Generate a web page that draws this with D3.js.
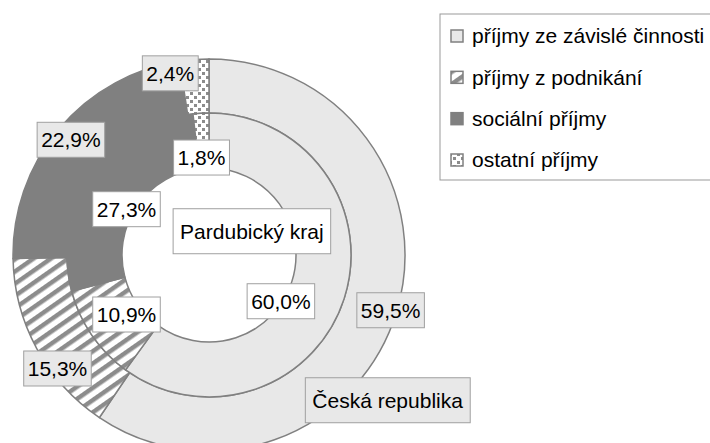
<!DOCTYPE html>
<html>
<head>
<meta charset="utf-8">
<script src="https://cdn.jsdelivr.net/npm/d3@7"></script>
<style>
  body { margin: 0; background: #fff; }
  text { font-family: "Liberation Sans", Arial, sans-serif; }
</style>
</head>
<body>
<div id="chart"></div>
<script>
// data
var categories = ["příjmy ze závislé činnosti", "příjmy z podnikání", "sociální příjmy", "ostatní příjmy"];
var seriesNames = ["Česká republika", "Pardubický kraj"];
var crValues = [59.5, 15.3, 22.9, 2.4];   // outer ring
var pkValues = [60.0, 10.9, 27.3, 1.8];   // inner ring

// label nudges from the arc centroid (Excel labels were moved by hand)
var crNudge = [[20, 6], [-3, 33], [-9, -6], [-26, -13]];
var pkNudge = [[-37, 11], [12, -5], [12, 19], [-1, 17]];
var nameNudge = [[17, 96], [-66, -59]];

var width = 710, height = 443;
var cx = 209, cy = 255;
var rOuter = 196, rMid = 142, rInner = 87;

var fills = ["#e8e8e8", "url(#hatch)", "#808080", "url(#dots)"];
var fmt = function(v) { return d3.format(".1f")(v).replace(".", ",") + "%"; };

var svg = d3.select("#chart").append("svg")
    .attr("width", width)
    .attr("height", height);

var defs = svg.append("defs");
var hatch = defs.append("pattern")
    .attr("id", "hatch")
    .attr("patternUnits", "userSpaceOnUse")
    .attr("width", 10).attr("height", 10)
    .attr("patternTransform", "rotate(-35)");
hatch.append("rect").attr("width", 10).attr("height", 10).attr("fill", "#fff");
hatch.append("rect").attr("width", 10).attr("height", 4.5).attr("fill", "#8c8c8c");

var dots = defs.append("pattern")
    .attr("id", "dots")
    .attr("patternUnits", "userSpaceOnUse")
    .attr("width", 8).attr("height", 8);
dots.append("rect").attr("width", 8).attr("height", 8).attr("fill", "#fff");
dots.append("rect").attr("x", 1).attr("y", 1).attr("width", 3).attr("height", 3).attr("fill", "#8c8c8c");
dots.append("rect").attr("x", 5).attr("y", 5).attr("width", 3).attr("height", 3).attr("fill", "#8c8c8c");

var pie = d3.pie().value(function(d) { return d; }).sort(null);

var outerArc = d3.arc().innerRadius(rMid).outerRadius(rOuter);
var innerArc = d3.arc().innerRadius(rInner).outerRadius(rMid);

var g = svg.append("g").attr("transform", "translate(" + cx + "," + cy + ")");

var crPie = pie(crValues);
var pkPie = pie(pkValues);

g.selectAll("path.outer")
  .data(crPie)
  .enter()
  .append("path")
  .attr("class", "outer")
  .attr("d", outerArc)
  .attr("fill", function(d, i) { return fills[i]; })
  .attr("stroke", "#808080")
  .attr("stroke-width", 1.5);

g.selectAll("path.inner")
  .data(pkPie)
  .enter()
  .append("path")
  .attr("class", "inner")
  .attr("d", innerArc)
  .attr("fill", function(d, i) { return fills[i]; })
  .attr("stroke", "#808080")
  .attr("stroke-width", 1.5);

// boxed label helper
function boxLabel(x, y, txt, bg, padX, padY) {
  var lg = g.append("g").attr("transform", "translate(" + x + "," + y + ")");
  var rect = lg.append("rect");
  var t = lg.append("text")
      .attr("text-anchor", "middle")
      .attr("dy", "0.35em")
      .attr("font-size", 21)
      .attr("fill", "#000")
      .text(txt);
  var bb = t.node().getBBox();
  rect.attr("x", bb.x - padX)
      .attr("y", bb.y - padY)
      .attr("width", bb.width + padX * 2)
      .attr("height", bb.height + padY * 2)
      .attr("fill", bg)
      .attr("stroke", "#a0a0a0")
      .attr("stroke-width", 1);
}

crPie.forEach(function(d, i) {
  var c = outerArc.centroid(d);
  boxLabel(c[0] + crNudge[i][0], c[1] + crNudge[i][1], fmt(d.data), "#e8e8e8", 4, 6);
});
pkPie.forEach(function(d, i) {
  var c = innerArc.centroid(d);
  boxLabel(c[0] + pkNudge[i][0], c[1] + pkNudge[i][1], fmt(d.data), "#fff", 4, 6);
});

var c0 = outerArc.centroid(crPie[0]);
boxLabel(c0[0] + nameNudge[0][0], c0[1] + nameNudge[0][1], seriesNames[0], "#e8e8e8", 7, 11);
var c1 = innerArc.centroid(pkPie[0]);
boxLabel(c1[0] + nameNudge[1][0], c1[1] + nameNudge[1][1], seriesNames[1], "#fff", 7, 11);

// legend
var legend = svg.append("g").attr("transform", "translate(440,14)");
legend.append("rect")
  .attr("width", 280)
  .attr("height", 166)
  .attr("fill", "#fff")
  .attr("stroke", "#999")
  .attr("stroke-width", 1);

var ly = d3.scalePoint().domain(categories).range([22, 146]);

var items = legend.selectAll("g.item")
  .data(categories)
  .enter()
  .append("g")
  .attr("class", "item")
  .attr("transform", function(d) { return "translate(0," + ly(d) + ")"; });

items.append("rect")
  .attr("x", 11).attr("y", -6)
  .attr("width", 12).attr("height", 12)
  .attr("fill", function(d, i) { return fills[i]; })
  .attr("stroke", "#808080")
  .attr("stroke-width", 1.5);

items.append("text")
  .attr("x", 32)
  .attr("dy", "0.35em")
  .attr("font-size", 21)
  .attr("fill", "#000")
  .text(function(d) { return d; });
</script>
</body>
</html>
